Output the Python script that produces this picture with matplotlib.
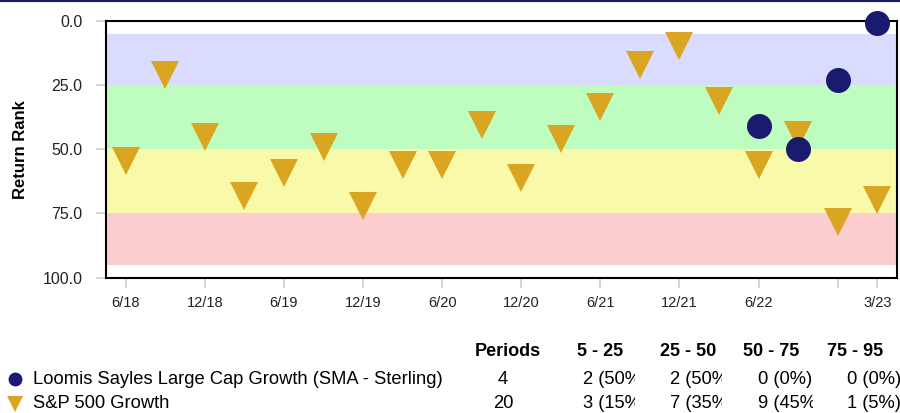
#!/usr/bin/env python3
"""Return-rank scatter with quartile bands and a period count table."""

import matplotlib

matplotlib.use("Agg")
import matplotlib.pyplot as plt
import numpy as np
from matplotlib.lines import Line2D
from matplotlib.transforms import Bbox

plt.rcParams.update(
    {
        "font.family": "sans-serif",
        "font.sans-serif": ["Liberation Sans", "Arial", "DejaVu Sans"],
    }
)

# quarterly periods 6/18 .. 3/23
PERIODS = [
    "6/18", "9/18", "12/18", "3/19", "6/19", "9/19", "12/19", "3/20", "6/20", "9/20",
    "12/20", "3/21", "6/21", "9/21", "12/21", "3/22", "6/22", "9/22", "12/22", "3/23",
]
TICK_LABELS = ["6/18", "", "12/18", "", "6/19", "", "12/19", "", "6/20", "",
               "12/20", "", "6/21", "", "12/21", "", "6/22", "", "", "3/23"]
TICK_IDX = [0, 2, 4, 6, 8, 10, 12, 14, 16, 18, 19]

SP500_RANK = [54.4, 21.3, 45.2, 68.3, 59.1, 49.1, 72.2, 56.0, 56.0, 40.4,
              61.4, 46.0, 33.7, 17.4, 9.7, 31.3, 56.0, 44.4, 78.4, 69.8]
LOOMIS_PERIODS = ["6/22", "9/22", "12/22", "3/23"]
LOOMIS_RANK = [40.9, 50.1, 23.2, 0.8]

BAND_EDGES = [5, 25, 50, 75, 95]
BAND_COLORS = ["#d9dcfc", "#bffcbf", "#f9f9aa", "#fccdd0"]

SERIES_NAMES = ["Loomis Sayles Large Cap Growth (SMA - Sterling)", "S&P 500 Growth"]
TABLE_HEADER = ["Periods", "5 - 25", "25 - 50", "50 - 75", "75 - 95"]
TABLE_ROWS = [
    ["4", "2 (50%)", "2 (50%)", "0 (0%)", "0 (0%)"],
    ["20", "3 (15%)", "7 (35%)", "9 (45%)", "1 (5%)"],
]

NAVY = "#1a1a6e"
GOLD = "#daa520"

W, H = 900, 413
fig = plt.figure(figsize=(W / 100, H / 100), dpi=100)
ax = fig.add_axes([106 / W, 1 - 277.7 / H, (897 - 106) / W, (277.7 - 20.7) / H])

x_all = np.arange(len(PERIODS))
x_loomis = np.array([PERIODS.index(p) for p in LOOMIS_PERIODS])

for lo, hi, color in zip(BAND_EDGES[:-1], BAND_EDGES[1:], BAND_COLORS):
    ax.axhspan(lo, hi, color=color, linewidth=0, zorder=0)

ax.plot(x_all, SP500_RANK, linestyle="none", marker="v", markersize=19.5,
        color=GOLD, markeredgewidth=0, zorder=3, clip_on=False)
ax.plot(x_loomis, LOOMIS_RANK, linestyle="none", marker="o", markersize=18,
        color=NAVY, markeredgewidth=0, zorder=4, clip_on=False)

ax.set_xlim(-0.5, len(PERIODS) - 0.5)
ax.set_ylim(100, 0)
ax.set_yticks([0, 25, 50, 75, 100])
ax.set_yticklabels(["0.0", "25.0", "50.0", "75.0", "100.0"], fontsize=11.5, color="#222222")
ax.set_xticks(TICK_IDX)
ax.set_xticklabels([TICK_LABELS[i] for i in TICK_IDX], fontsize=10.5, color="#222222")
ax.tick_params(axis="y", length=7, width=1.2, color="#d0d0d0", pad=10)
ax.tick_params(axis="x", length=7, width=1.2, color="#d0d0d0", pad=6)
ax.set_ylabel("Return Rank", fontsize=12, fontweight="bold", labelpad=10)
for sp in ax.spines.values():
    sp.set_linewidth(1.5)
    sp.set_color("black")

# top border line
fig.add_artist(Line2D([0, 1], [0.998, 0.998], transform=fig.transFigure,
                      color=NAVY, linewidth=1.5))

# table below
def fx(px):
    return px / W


def fy(py):
    return 1 - py / H


fig.text(fx(508), fy(352), TABLE_HEADER[0], ha="center", va="center",
         fontsize=13, fontweight="bold", color="black")
header_left = [577, 660, 743, 827]
for hx, label in zip(header_left, TABLE_HEADER[1:]):
    fig.text(fx(hx), fy(352), label, ha="left", va="center",
             fontsize=13, fontweight="bold", color="black")

row_y = [379, 404]
markers = [("o", NAVY, 10), ("v", GOLD, 11)]
val_left = [583, 670, 758, 847]
col_right = [635, 722, 813, 900]
for ry, name, (mk, mc, ms), row in zip(row_y, SERIES_NAMES, markers, TABLE_ROWS):
    fig.add_artist(Line2D([fx(15)], [fy(ry)], transform=fig.transFigure, marker=mk,
                          markersize=ms, color=mc, markeredgewidth=0, linestyle="none"))
    fig.text(fx(33), fy(ry), name, ha="left", va="center", fontsize=13.2, color="black")
    fig.text(fx(503), fy(ry), row[0], ha="center", va="center",
             fontsize=13.2, color="black")
    for vx, vr, val in zip(val_left, col_right, row[1:]):
        t = fig.text(fx(vx), fy(ry), val, ha="left", va="center",
                     fontsize=13.2, color="black")
        t.set_clip_box(Bbox([[vx - 5, 0], [vr, H]]))
        t.set_clip_on(True)

fig.savefig("out.png", dpi=100)
